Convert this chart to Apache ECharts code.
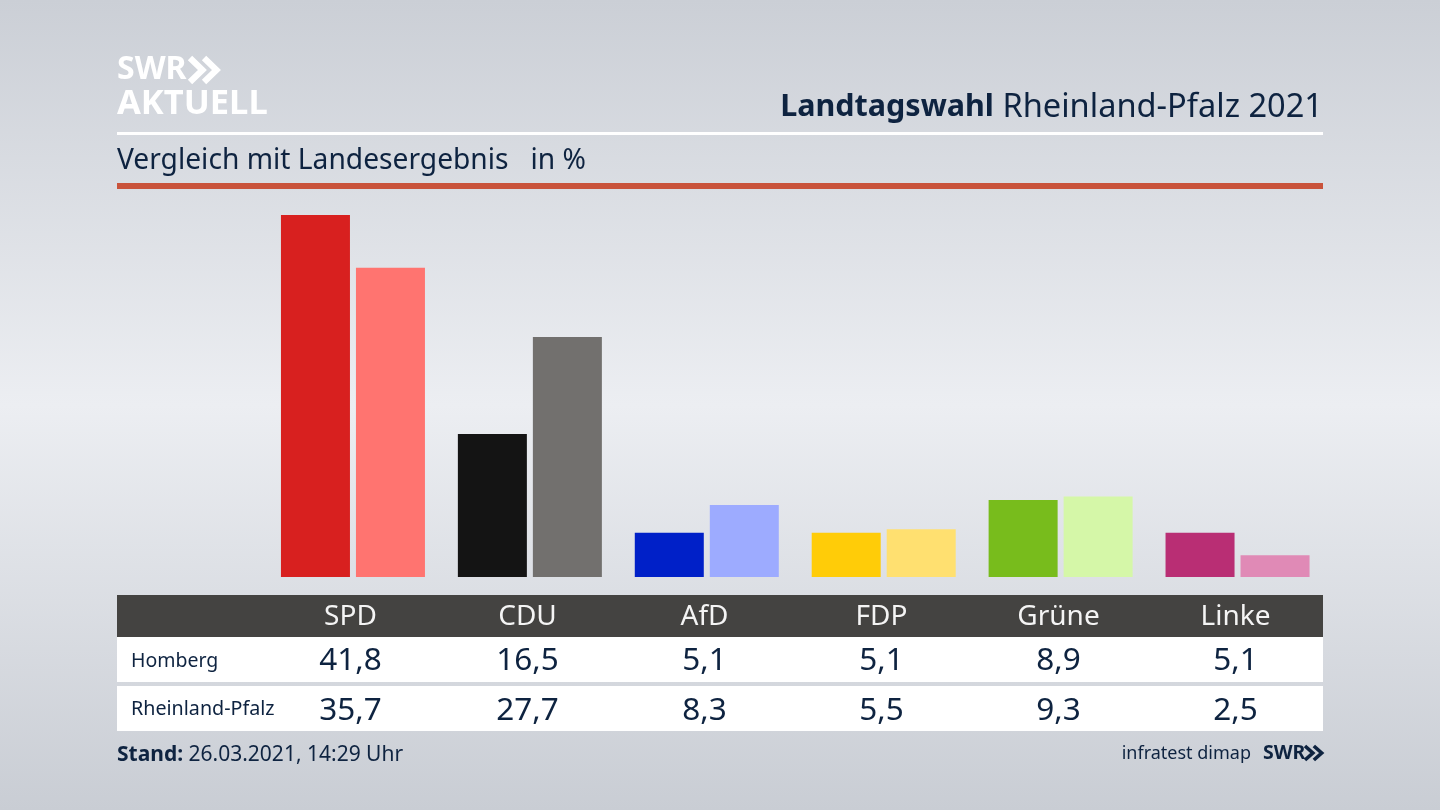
<!DOCTYPE html>
<html>
<head>
<meta charset="utf-8">
<style>
  html, body { margin: 0; padding: 0; background: #dfe2e7; }
  #main { width: 1440px; height: 810px; }
</style>
<script src="https://cdn.jsdelivr.net/npm/echarts@6/dist/echarts.min.js"></script>
</head>
<body>
<div id="main"></div>
<script>
const parties = ['SPD', 'CDU', 'AfD', 'FDP', 'Grüne', 'Linke'];
const homberg = [41.8, 16.5, 5.1, 5.1, 8.9, 5.1];
const landesergebnis = [35.7, 27.7, 8.3, 5.5, 9.3, 2.5];
const rowNames = ['Homberg', 'Rheinland-Pfalz'];
const colorsHomberg = ['#d8201f', '#141414', '#0020c8', '#ffcc08', '#78bc1c', '#b92e74'];
const colorsLand = ['#ff7470', '#72706e', '#9dabff', '#ffe070', '#d5f7a8', '#e08ab6'];

const navy = '#0e2340';
const font = '"Noto Sans"';
const fmt = v => v.toFixed(1).replace('.', ',');

var chartDom = document.getElementById('main');
var myChart = echarts.init(chartDom);

function tableAxis(data, offset, size, color) {
  return {
    type: 'category',
    gridIndex: 1,
    position: 'bottom',
    offset: offset,
    data: data,
    z: 10,
    axisLine: { show: false },
    axisTick: { show: false },
    axisLabel: {
      interval: 0,
      margin: 0,
      verticalAlign: 'middle',
      fontFamily: font,
      fontSize: size,
      color: color
    }
  };
}

function band(y, height, fill) {
  return { type: 'rect', shape: { x: 117, y: y, width: 1206, height: height }, style: { fill: fill }, z: 1 };
}

function chevrons(x, y, h, w, color) {
  const step = w * 0.52;
  return [0, 1].map(i => ({
    type: 'polyline',
    z: 2,
    shape: { points: [[x + i * step, y], [x + i * step + w * 0.46, y + h / 2], [x + i * step, y + h]] },
    style: { stroke: color, lineWidth: h * 0.26, fill: null }
  }));
}

function text(x, y, value, size, weight, color, align) {
  return {
    type: 'text',
    z: 10,
    x: x,
    y: y,
    style: {
      text: value,
      fontFamily: font,
      fontSize: size,
      fontWeight: weight,
      fill: color,
      align: align || 'left',
      verticalAlign: 'middle'
    }
  };
}

var option = {
  animation: false,
  backgroundColor: {
    type: 'linear', x: 0, y: 0, x2: 0, y2: 1,
    colorStops: [
      { offset: 0, color: '#cbcfd6' },
      { offset: 0.5, color: '#eceef2' },
      { offset: 1, color: '#c9cdd4' }
    ]
  },
  title: [
    {
      text: '{b|Landtagswahl} Rheinland-Pfalz 2021',
      right: 117,
      top: 91,
      padding: 0,
      textStyle: {
        fontFamily: font,
        fontSize: 32.6,
        fontWeight: 'normal',
        color: navy,
        rich: { b: { fontFamily: font, fontSize: 30.5, fontWeight: 'bold', color: navy } }
      }
    },
    {
      text: 'Vergleich mit Landesergebnis   in %',
      left: 117,
      top: 147,
      padding: 0,
      textStyle: { fontFamily: font, fontSize: 28.2, fontWeight: 'normal', color: navy }
    }
  ],
  grid: [
    { left: 264.5, top: 215, width: 1061.5, height: 362 },
    { left: 262, top: 594, width: 1062, height: 1 }
  ],
  xAxis: [
    {
      type: 'category',
      gridIndex: 0,
      data: parties,
      axisLine: { show: false },
      axisTick: { show: false },
      axisLabel: { show: false }
    },
    tableAxis(parties, 22, 28, '#f4f4f4'),
    tableAxis(homberg.map(fmt), 66, 31.5, navy),
    tableAxis(landesergebnis.map(fmt), 116, 31.5, navy)
  ],
  yAxis: [
    { type: 'value', gridIndex: 0, min: 0, max: 41.8, show: false },
    { type: 'value', gridIndex: 1, show: false }
  ],
  series: [
    {
      name: rowNames[0],
      type: 'bar',
      barWidth: 69,
      barGap: '8.7%',
      data: homberg.map((v, i) => ({ value: v, itemStyle: { color: colorsHomberg[i] } }))
    },
    {
      name: rowNames[1],
      type: 'bar',
      barWidth: 69,
      data: landesergebnis.map((v, i) => ({ value: v, itemStyle: { color: colorsLand[i] } }))
    }
  ],
  graphic: [
    // rules
    { type: 'rect', z: 1, shape: { x: 117, y: 132, width: 1206, height: 3 }, style: { fill: '#ffffff' } },
    { type: 'rect', z: 1, shape: { x: 117, y: 183, width: 1206, height: 6 }, style: { fill: '#c9533b' } },
    // table bands
    band(595, 42, '#444341'),
    band(637, 45, '#ffffff'),
    band(686, 45, '#ffffff'),
    text(131, 661, rowNames[0], 19.5, 'normal', navy),
    text(131, 709, rowNames[1], 19.7, 'normal', navy),
    // logo top left
    text(117, 70, 'SWR', 32, 'bold', '#ffffff'),
    ...chevrons(190, 58, 24, 27, '#ffffff'),
    text(117, 104, 'AKTUELL', 34.5, 'bold', '#ffffff'),
    // footer
    {
      type: 'text',
      z: 10,
      x: 117,
      y: 755.5,
      style: {
        text: '{b|Stand:} 26.03.2021, 14:29 Uhr',
        fontFamily: font,
        fontSize: 21,
        fill: navy,
        verticalAlign: 'middle',
        rich: { b: { fontFamily: font, fontSize: 21, fontWeight: 'bold', fill: navy } }
      }
    },
    text(1251, 754, 'infratest dimap', 18, 'normal', navy, 'right'),
    text(1263, 753.5, 'SWR', 19.5, 'bold', navy),
    ...chevrons(1305, 746, 14, 17, navy)
  ]
};

option && myChart.setOption(option);

window.onresize = function() {
  myChart.resize();
};
</script>
</body>
</html>
